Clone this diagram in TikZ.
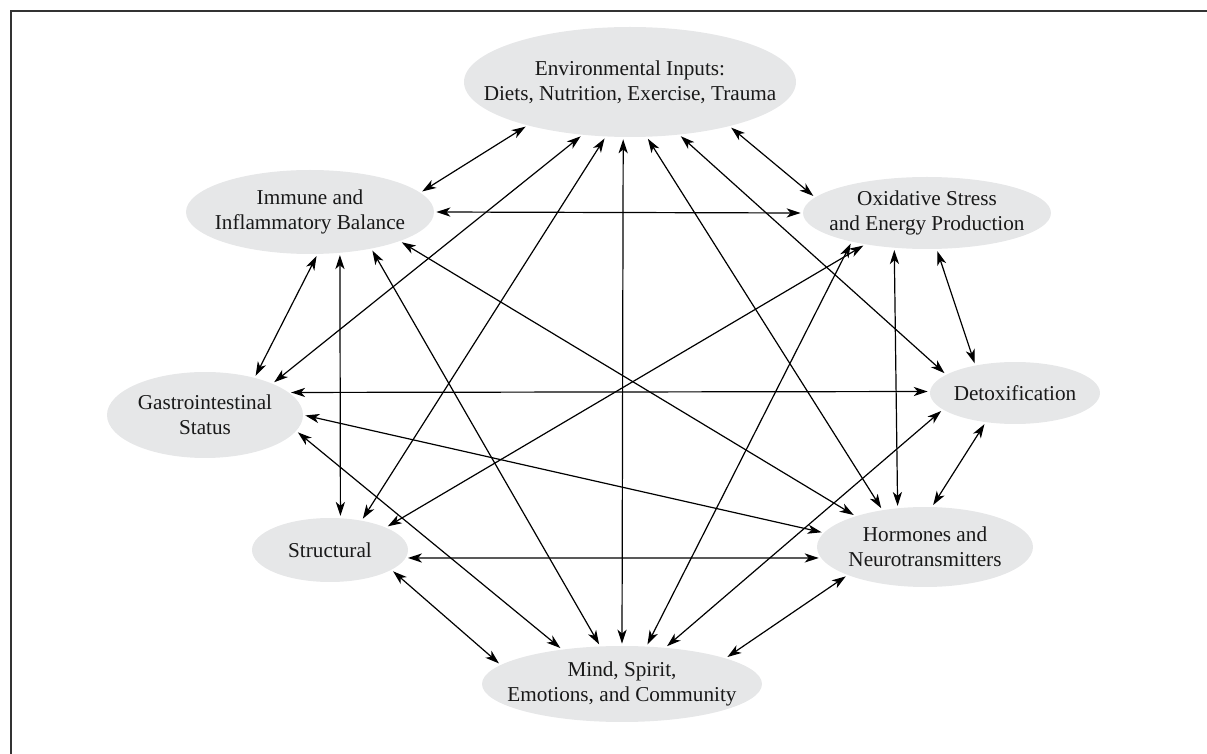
\documentclass[tikz,border=0pt]{standalone}
\usepackage{fontspec}
\setmainfont{Liberation Serif}
\usetikzlibrary{shapes.geometric,arrows.meta}
\definecolor{blobgray}{RGB}{230,231,232}
\tikzset{
  blob/.style={ellipse, fill=blobgray, inner sep=0pt},
  lbl/.style={align=center, font=\fontsize{10.6}{12.6}\selectfont, text=black!90},
  link/.style={{Stealth[length=7pt,width=4.6pt,inset=2pt]}-{Stealth[length=7pt,width=4.6pt,inset=2pt]},
    line width=0.6pt, shorten <=1pt, shorten >=1pt}
}
\begin{document}
\begin{tikzpicture}[x=0.5pt,y=-0.5pt]
\useasboundingbox (0,0) rectangle (1207,754);
\draw[line width=1pt, black!80] (1207,10.7) -- (10.7,10.7) -- (10.7,754);
%
\node[blob, minimum width=166pt, minimum height=55pt,
  label={[lbl]center:{Environmental Inputs:\\Diets, Nutrition, Exercise, Trauma}}] (env) at (630,82) {};
\node[blob, minimum width=124pt, minimum height=42pt,
  label={[lbl]center:{Immune and\\Inflammatory Balance}}] (immune) at (310,212) {};
\node[blob, minimum width=124pt, minimum height=36pt,
  label={[lbl]center:{Oxidative Stress\\and Energy Production}}] (oxid) at (927,213) {};
\node[blob, minimum width=98pt, minimum height=43pt,
  label={[lbl]center:{Gastrointestinal\\Status}}] (gastro) at (205,415) {};
\node[blob, minimum width=85pt, minimum height=31pt,
  label={[lbl]center:{Detoxification}}] (detox) at (1015,393) {};
\node[blob, minimum width=78pt, minimum height=32pt,
  label={[lbl]center:{Structural}}] (struct) at (330,550) {};
\node[blob, minimum width=108pt, minimum height=40pt,
  label={[lbl]center:{Hormones and\\Neurotransmitters}}] (horm) at (925,547) {};
\node[blob, minimum width=140pt, minimum height=38pt,
  label={[lbl]center:{Mind, Spirit,\\Emotions, and Community}}] (mind) at (622,684) {};
%
\draw[link] (env.203) -- (immune.10);
\draw[link] (env.336) -- (oxid.172);
\draw[link] (env.228) -- (gastro.25);
\draw[link] (env.246) -- (struct.43);
\draw[link] (env.263) -- (mind.90);
\draw[link] (env.287) -- (horm.139);
\draw[link] (env.313) -- (detox.165);
\draw[link] (immune.0) -- (oxid.180);
\draw[link] (immune.280) -- (gastro.37);
\draw[link] (immune.306) -- (struct.72);
\draw[link] (immune.329) -- (mind.120);
\draw[link] (immune.342) -- (horm.156);
\draw[link] (oxid.207) -- (struct.22);
\draw[link] (oxid.201) -- (mind.57);
\draw[link] (oxid.227) -- (horm.125);
\draw[link] (oxid.285) -- (detox.145);
\draw[link] (gastro.15) -- (detox.179);
\draw[link] (gastro.0) -- (horm.172);
\draw[link] (gastro.350) -- (mind.150);
\draw[link] (struct.354) -- (horm.186);
\draw[link] (struct.342) -- (mind.171);
\draw[link] (detox.225) -- (horm.80);
\draw[link] (detox.193) -- (mind.40);
\draw[link] (horm.200) -- (mind.14);
\end{tikzpicture}
\end{document}
